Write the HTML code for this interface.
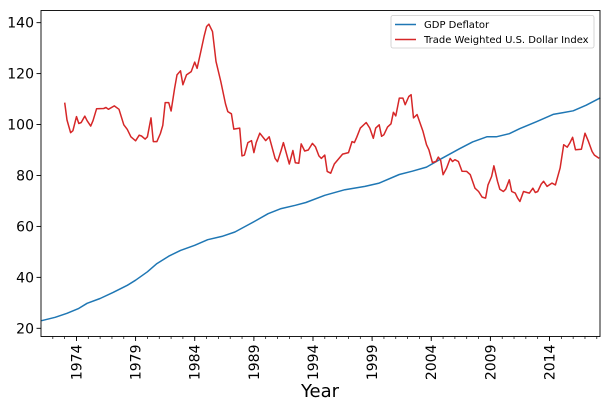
<!DOCTYPE html>
<html><head><meta charset="utf-8">
<style>
body{margin:0;background:#fff;}
svg{display:block;font-family:"DejaVu Sans","Liberation Sans",sans-serif;}
</style></head>
<body>
<svg id="chart" width="609" height="408" viewBox="0 0 609 408"></svg>
<script>
const gdpYears=[1971.04,1972.2,1973.2,1974.2,1974.9,1976.0,1977.1,1978.3,1979.0,1980.0,1980.8,1981.8,1982.8,1984.0,1985.1,1986.3,1987.4,1988.2,1989.1,1990.2,1991.3,1992.5,1993.4,1995.0,1996.7,1998.4,1999.6,2001.3,2002.4,2003.6,2004.7,2006.4,2007.5,2008.7,2009.5,2010.6,2011.5,2012.9,2014.3,2015.1,2016.0,2017.1,2018.3];
const gdpValues=[23.0,24.3,25.9,27.8,29.8,31.7,34.1,36.9,38.9,42.2,45.4,48.3,50.6,52.6,54.8,56.1,57.8,59.8,62.1,65.0,67.0,68.3,69.4,72.2,74.4,75.7,77.0,80.4,81.7,83.3,86.2,90.5,93.2,95.2,95.2,96.4,98.4,101.1,104.0,104.6,105.4,107.6,110.5];
const usdYears=[1973.0,1973.2,1973.5,1973.7,1974.0,1974.2,1974.4,1974.7,1974.9,1975.2,1975.4,1975.7,1976.3,1976.5,1976.7,1977.2,1977.6,1978.0,1978.3,1978.6,1979.0,1979.3,1979.5,1979.8,1980.0,1980.3,1980.5,1980.8,1981.1,1981.3,1981.5,1981.8,1982.0,1982.3,1982.5,1982.8,1983.0,1983.3,1983.7,1984.0,1984.2,1984.5,1984.8,1985.0,1985.2,1985.5,1985.8,1986.2,1986.6,1986.8,1987.1,1987.3,1987.8,1988.0,1988.2,1988.5,1988.8,1989.0,1989.2,1989.5,1990.0,1990.3,1990.8,1991.0,1991.3,1991.5,1992.0,1992.3,1992.5,1992.8,1993.0,1993.3,1993.6,1993.95,1994.2,1994.5,1994.7,1995.0,1995.2,1995.5,1995.8,1996.5,1997.0,1997.3,1997.5,1997.7,1998.0,1998.5,1998.8,1999.1,1999.3,1999.6,1999.8,2000.0,2000.3,2000.6,2000.8,2001.0,2001.3,2001.6,2001.8,2002.1,2002.3,2002.5,2002.8,2003.3,2003.6,2003.8,2004.1,2004.4,2004.6,2004.8,2005.0,2005.3,2005.6,2005.8,2006.0,2006.3,2006.6,2007.0,2007.3,2007.7,2008.0,2008.3,2008.6,2008.8,2009.1,2009.3,2009.6,2009.8,2010.1,2010.3,2010.6,2010.8,2011.1,2011.3,2011.5,2011.8,2012.1,2012.3,2012.6,2012.8,2013.0,2013.3,2013.5,2013.8,2014.2,2014.5,2014.9,2015.2,2015.5,2015.7,2015.95,2016.2,2016.7,2017.0,2017.3,2017.6,2017.8,2018.2];
const usdValues=[108.6,101.8,96.8,97.6,103.1,100.4,100.8,103.3,101.5,99.4,101.5,106.2,106.3,106.7,106.0,107.3,106.0,99.9,98.1,95.2,93.6,95.8,95.5,94.3,95.2,102.6,93.3,93.3,96.5,99.7,108.6,108.6,105.3,114.2,119.5,121.1,115.6,119.5,120.8,124.5,122.1,128.3,134.8,138.5,139.4,136.5,124.8,116.9,108.1,105.1,104.2,98.2,98.6,87.7,88.0,92.9,93.7,89.0,92.9,96.6,93.7,95.2,86.7,85.4,89.8,92.9,84.5,89.8,85.0,84.8,92.4,89.6,90.0,92.6,91.3,87.7,86.7,88.0,81.6,80.9,84.5,88.4,89.0,93.3,92.9,95.0,98.6,100.8,98.6,94.6,98.6,99.9,95.4,96.0,99.0,100.3,104.8,103.4,110.4,110.4,107.8,111.0,111.7,102.6,103.9,97.3,92.1,90.1,85.1,85.5,87.2,85.9,80.3,82.9,86.7,85.5,86.2,85.5,81.7,81.6,80.3,75.0,73.7,71.5,71.1,76.3,79.6,83.8,77.7,74.6,73.7,74.6,78.3,73.7,73.1,71.1,69.8,73.7,73.3,73.1,75.0,73.3,73.7,76.6,77.7,75.7,77.0,76.3,82.9,92.1,91.1,92.6,95.0,90.1,90.3,96.6,93.3,89.4,88.0,86.7];
const yTicks=[20,40,60,80,100,120,140];
const xTicks=[1974,1979,1984,1989,1994,1999,2004,2009,2014];

const L=41,R=600,T=10.5,B=336.5;
const xMin=1971.0,xMax=2018.27;
function xs(v){return L+(v-xMin)/(xMax-xMin)*(R-L);}
function ys(v){return 328.3-(v-20)*2.547;}
const NS='http://www.w3.org/2000/svg';
const svg=document.getElementById('chart');
function mk(tag,attrs,parent){const e=document.createElementNS(NS,tag);for(const k in attrs)e.setAttribute(k,attrs[k]);(parent||svg).appendChild(e);return e;}

// series
function line(xa,va,color,name){
  const d=xa.map((x,i)=>(i?'L':'M')+xs(x).toFixed(1)+','+ys(va[i]).toFixed(1)).join(' ');
  const p=mk('path',{d:d,fill:'none',stroke:color,'stroke-width':1.5,'stroke-linejoin':'round'});
  
  
}
line(gdpYears,gdpValues,'#1f77b4','gdp-deflator-line');
line(usdYears,usdValues,'#d62728','dollar-index-line');

// frame
const fr=mk('rect',{x:L,y:T,width:R-L,height:B-T,fill:'none',stroke:'#000','stroke-width':0.9});



// y ticks
yTicks.forEach(v=>{
  const y=ys(v);
  mk('line',{x1:L-4.5,x2:L,y1:y,y2:y,stroke:'#000','stroke-width':0.9});
  const t=mk('text',{x:L-7,y:y+5,'text-anchor':'end','font-size':14,fill:'#000'});
  t.textContent=v;
  
  
});
// minor x ticks
for(let yr=1972;yr<=2018;yr++){
  const x=xs(yr);
  mk('line',{x1:x,x2:x,y1:B,y2:B+2.5,stroke:'#000','stroke-width':0.7});
}
xTicks.forEach(v=>{
  const x=xs(v);
  mk('line',{x1:x,x2:x,y1:B,y2:B+4.5,stroke:'#000','stroke-width':0.9});
  const t=mk('text',{transform:`translate(${x+5},${B+8}) rotate(-90)`,'text-anchor':'end','font-size':14,fill:'#000'});
  t.textContent=v;
  
  
});
const xt=mk('text',{x:320,y:397,'text-anchor':'middle','font-size':18,fill:'#000'});
xt.textContent='Year';



// legend
const lg=mk('g',{});


mk('rect',{x:391,y:15.5,width:203,height:32.5,rx:2,fill:'#fff',stroke:'#ccc','stroke-width':0.8},lg);
const entries=[['GDP Deflator','#1f77b4'],['Trade Weighted U.S. Dollar Index','#d62728']];
entries.forEach((e,i)=>{
  const y=24.5+i*15;
  const g=mk('g',{},lg);
  
  
  mk('line',{x1:395,x2:416,y1:y,y2:y,stroke:e[1],'stroke-width':1.5},g);
  const t=mk('text',{x:424,y:y+3.5,'font-size':10,fill:'#000'},g);
  t.textContent=e[0];
});
</script>
</body></html>
